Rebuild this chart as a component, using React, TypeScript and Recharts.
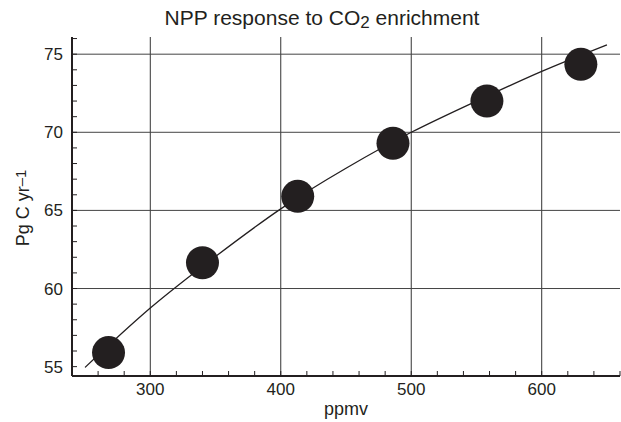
import React from 'react';
import { ComposedChart, Line, Scatter, XAxis, YAxis, ReferenceLine } from 'recharts';

// measured NPP points (ppmv vs Pg C / yr)
const pointCo2 = [268, 340, 413, 486, 558, 630];
const pointNpp = [55.9, 61.65, 65.9, 69.3, 72.0, 74.35];

// fitted curve
const curveCo2 = [250, 300, 350, 400, 450, 500, 550, 600, 650];
const curveNpp = [54.95, 58.75, 62.05, 65.1, 67.7, 70.0, 72.0, 73.9, 75.6];

const xTicks = [240, 260, 280, 300, 320, 340, 360, 380, 400, 420, 440, 460, 480, 500, 520, 540, 560, 580, 600, 620, 640, 660];
const yTicks = [55, 56, 57, 58, 59, 60, 61, 62, 63, 64, 65, 66, 67, 68, 69, 70, 71, 72, 73, 74, 75, 76];
const xGrid = [300, 400, 500, 600];
const yGrid = [60, 65, 70, 75];

const points = pointCo2.map((co2, i) => ({ co2, npp: pointNpp[i] }));
const curve = curveCo2.map((co2, i) => ({ co2, npp: curveNpp[i] }));

const FONT = '"Liberation Sans", Arial, Helvetica, sans-serif';
const xDomain = [240, 660];
const yDomain = [54.4, 76.1];

const Dot = (props: any) => <circle cx={props.cx} cy={props.cy} r={16.5} fill="#231f20" />;

export default function App() {
  const tickStyle = { fill: '#231f20', fontSize: 17, fontFamily: FONT };
  return (
    <div style={{ position: 'absolute', left: 0, top: 0, width: 621, height: 422, background: '#fff', fontFamily: FONT }}>
      <div
        style={{
          position: 'absolute',
          top: 6,
          left: 0,
          width: 644,
          textAlign: 'center',
          fontSize: 21,
          lineHeight: '24px',
          color: '#231f20',
        }}
      >
        NPP response to CO<sub style={{ fontSize: 17, verticalAlign: -3, lineHeight: 0 }}>2</sub> enrichment
      </div>
      <ComposedChart width={621} height={422} margin={{ top: 37, right: 1, bottom: 0, left: 0 }}>
        {xGrid.map((v) => (
          <ReferenceLine key={'gx' + v} x={v} stroke="#333" strokeWidth={1} />
        ))}
        {yGrid.map((v) => (
          <ReferenceLine key={'gy' + v} y={v} stroke="#444" strokeWidth={1} />
        ))}
        <XAxis
          dataKey="co2"
          type="number"
          domain={xDomain}
          ticks={xTicks}
          interval={0}
          height={46}
          tickSize={-5}
          tickMargin={12}
          tickFormatter={(v: number) => (v % 100 === 0 ? String(v) : '')}
          tick={tickStyle}
          axisLine={{ stroke: '#231f20', strokeWidth: 2 }}
          tickLine={{ stroke: '#231f20', strokeWidth: 1 }}
          allowDataOverflow
          label={{
            content: (p: any) => (
              <text
                x={p.viewBox.x + p.viewBox.width / 2}
                y={p.viewBox.y + 38.5}
                textAnchor="middle"
                fontSize={18}
                fontFamily={FONT}
                fill="#231f20"
              >
                ppmv
              </text>
            ),
          }}
        />
        <XAxis
          xAxisId="top"
          orientation="top"
          type="number"
          dataKey="co2"
          domain={xDomain}
          ticks={xTicks}
          interval={0}
          height={0}
          tickSize={-5}
          tickFormatter={() => ''}
          axisLine={{ stroke: '#231f20', strokeWidth: 2 }}
          tickLine={{ stroke: '#231f20', strokeWidth: 1 }}
          allowDataOverflow
        />
        <YAxis
          type="number"
          domain={yDomain}
          ticks={yTicks}
          interval={0}
          width={72}
          tickSize={-5}
          tickMargin={14}
          tickFormatter={(v: number) => (v % 5 === 0 ? String(v) : '')}
          tick={tickStyle}
          axisLine={{ stroke: '#231f20', strokeWidth: 2 }}
          tickLine={{ stroke: '#231f20', strokeWidth: 1 }}
          allowDataOverflow
          label={{
            content: () => (
              <text
                x={29}
                y={208}
                transform="rotate(-90 29 208)"
                textAnchor="middle"
                fontSize={18}
                fontFamily={FONT}
                fill="#231f20"
              >
                Pg C yr
                <tspan fontSize={15} dy={-3}>
                  –1
                </tspan>
              </text>
            ),
          }}
        />
        <YAxis
          yAxisId="right"
          orientation="right"
          type="number"
          domain={yDomain}
          ticks={yTicks}
          interval={0}
          width={0}
          tickSize={-5}
          tickFormatter={() => ''}
          axisLine={{ stroke: '#231f20', strokeWidth: 2 }}
          tickLine={{ stroke: '#231f20', strokeWidth: 1 }}
          allowDataOverflow
        />
        <Line
          data={curve}
          dataKey="npp"
          type="natural"
          stroke="#231f20"
          strokeWidth={1.3}
          dot={false}
          activeDot={false}
          isAnimationActive={false}
        />
        <Scatter data={points} dataKey="npp" shape={Dot} isAnimationActive={false} />
      </ComposedChart>
    </div>
  );
}
